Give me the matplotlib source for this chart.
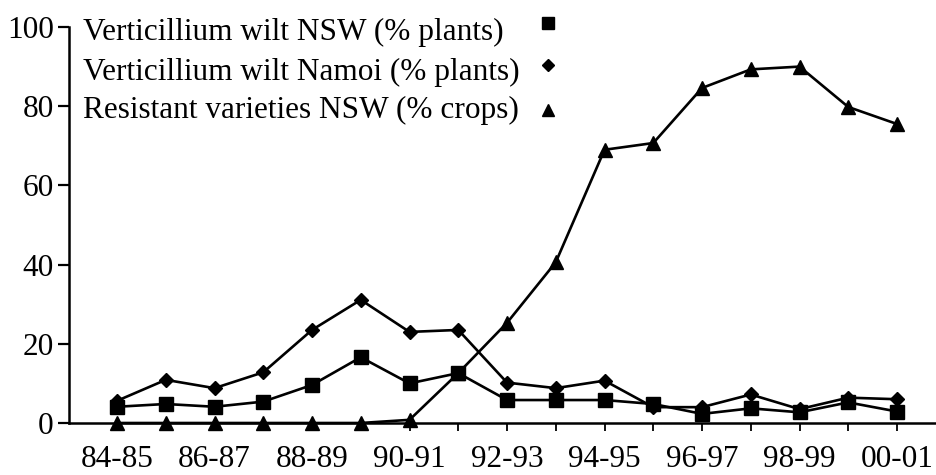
import matplotlib
matplotlib.use("Agg")
from matplotlib import pyplot as plt

# seasons 84-85 .. 00-01
seasons = ["84-85", "85-86", "86-87", "87-88", "88-89", "89-90", "90-91", "91-92",
           "92-93", "93-94", "94-95", "95-96", "96-97", "97-98", "98-99", "99-00", "00-01"]

wilt_nsw = [4.1, 4.8, 4.1, 5.4, 9.6, 16.6, 10.0, 12.6, 5.8, 5.8, 5.8, 4.8, 2.3, 3.7, 2.7, 5.2, 2.9]
wilt_namoi = [5.6, 10.9, 8.8, 12.8, 23.5, 31.1, 23.0, 23.5, 10.2, 8.8, 10.7, 4.0, 4.0, 7.2, 3.5, 6.4, 6.0]
resistant_nsw = [0, 0, 0, 0, 0, 0, 0.8, 12.6, 25.3, 40.6, 69.0, 70.7, 84.6, 89.3, 90.0, 79.8, 75.5]

labels = ["Verticillium wilt NSW (% plants)",
          "Verticillium wilt Namoi (% plants)",
          "Resistant varieties NSW (% crops)"]

plt.rcParams["font.family"] = ["Liberation Serif", "DejaVu Serif"]
FS = 22.5

fig = plt.figure(figsize=(9.37, 4.75), dpi=100)
ax = fig.add_axes([69 / 937, 1 - 423 / 475, 1 - 69 / 937, (423 - 27) / 475])

x = list(range(len(seasons)))
styles = [("s", 9.6), ("D", 7.6), ("^", 10)]
series = [wilt_nsw, wilt_namoi, resistant_nsw]

for vals, (m, ms) in zip(series, styles):
    ax.plot(x, vals, color="black", lw=1.9, marker=m, markersize=ms,
            markerfacecolor="black", markeredgecolor="black", clip_on=False, zorder=3)

ax.set_xlim(-0.985, 16.82)
ax.set_ylim(0, 100)
ax.set_yticks([0, 20, 40, 60, 80, 100])
ax.set_xticks(x)
ax.set_xticklabels([s if i % 2 == 0 else "" for i, s in enumerate(seasons)])

for side in ["top", "right"]:
    ax.spines[side].set_visible(False)
for side in ["left", "bottom"]:
    ax.spines[side].set_linewidth(1.8)

ax.tick_params(axis="y", direction="out", length=8, width=1.6, pad=3, labelsize=FS)
ax.tick_params(axis="x", direction="out", length=6, width=1.3, pad=10, labelsize=FS)

# legend: text on the left, marker to the right
text_y = [0.967, 0.866, 0.770]
mark_y = [1.01, 0.905, 0.79]
for lab, ty, my, (m, ms) in zip(labels, text_y, mark_y, styles):
    ax.text(0.016, ty, lab, transform=ax.transAxes, fontsize=FS, va="baseline", ha="left")
    ax.plot([0.552], [my], marker=m, markersize=ms * 0.85, color="black",
            transform=ax.transAxes, clip_on=False, linestyle="none")

fig.savefig("out.png", dpi=100)
